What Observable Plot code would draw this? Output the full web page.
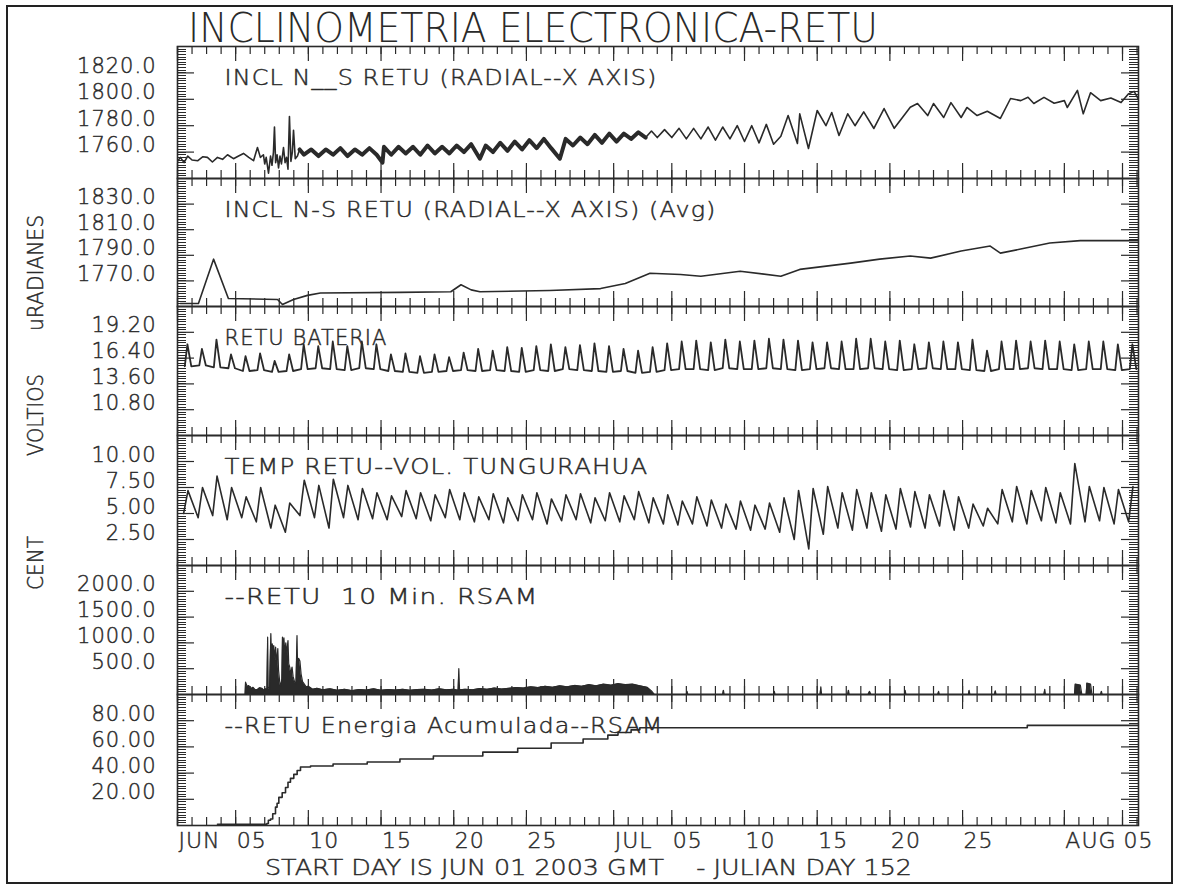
<!DOCTYPE html>
<html><head><meta charset="utf-8">
<script src="https://cdn.jsdelivr.net/npm/d3@7"></script>
<script src="https://cdn.jsdelivr.net/npm/@observablehq/plot@0.6"></script>
<style>
body{margin:0;background:#fff;}
#wrap{position:relative;width:1179px;height:886px;background:#fff;overflow:hidden;}
#wrap svg{position:absolute;left:0;top:0;}
#border{position:absolute;left:6px;top:5px;width:1163px;height:875px;border:2px solid #222;}
</style></head><body>
<div id="wrap"><div id="border"></div></div>
<script>
// ---------------- DATA (days since 2003-06-01 00:00 GMT) ----------------
const mainTitle = "INCLINOMETRIA ELECTRONICA-RETU";
const caption = "START DAY IS JUN 01 2003 GMT    - JULIAN DAY 152";
const yTitles = [["uRADIANES", 273, 116], ["VOLTIOS", 415, 82], ["CENT", 563, 54]];
const xLabels = [["2003-06-01","JUN"],["2003-06-05","05"],["2003-06-10","10"],["2003-06-15","15"],["2003-06-20","20"],["2003-06-25","25"],["2003-07-01","JUL"],["2003-07-05","05"],["2003-07-10","10"],["2003-07-15","15"],["2003-07-20","20"],["2003-07-25","25"],["2003-08-01","AUG"],["2003-08-05","05"]];

const p1Ticks = [1760, 1780, 1800, 1820];
const p2Ticks = [1770, 1790, 1810, 1830];
const p3Ticks = [10.8, 13.6, 16.4, 19.2];
const p4Ticks = [2.5, 5.0, 7.5, 10.0];
const p5Ticks = [500, 1000, 1500, 2000];
const p6Ticks = [20, 40, 60, 80];

// INCL N__S RETU (radial) [day, uRad]
const inclPts = [[0.0,1753],[0.2,1756],[0.45,1752],[0.7,1757],[1.0,1754],[1.4,1753.5],[1.75,1756.5],[2.06,1756],[2.4,1752.5],[2.75,1756],[3.1,1754.5],[3.44,1758],[3.85,1755],[4.2,1757],[4.54,1759],[4.9,1756],[5.23,1753.5],[5.5,1763.5],[5.7,1756],
[5.91,1758],[6.0,1751],[6.1,1756],[6.26,1744],[6.4,1757],[6.5,1750],[6.6,1760],[6.67,1779],[6.75,1752],[6.85,1758],[6.95,1748],[7.05,1757],[7.15,1751],[7.29,1763.5],[7.4,1752],[7.5,1756],[7.6,1747],[7.7,1787],[7.8,1753],[7.9,1760],[7.98,1776.5],[8.1,1755],[8.25,1757],[8.4,1762],
[8.7,1758],[9.2,1762],[9.7,1757],[10.2,1762],[10.7,1758],[11.2,1763],[11.7,1757],[12.2,1762],[12.7,1758],[13.2,1763],[13.7,1758],[14.1,1752],[14.2,1764],[14.7,1758],[15.2,1764],[15.7,1759],[16.2,1764],[16.7,1758],[17.2,1765],[17.7,1759],[18.2,1764],[18.7,1759],[19.2,1765],[19.7,1760],[20.2,1766],[20.8,1755],[21.2,1765],[21.7,1760],[22.2,1767],[22.7,1761],[23.2,1768],[23.7,1762],[24.2,1769],[24.7,1763],[25.2,1770],[25.7,1763],[26.3,1755],[26.7,1770],[27.2,1765],[27.7,1771],[28.2,1766],[28.7,1773],[29.2,1767],[29.7,1774],[30.2,1768],[30.7,1774],[31.2,1770],[31.7,1775],[32.2,1771],
[32.6,1776],[33.0,1771],[33.5,1777],[34.0,1771],[34.5,1778],[35.0,1770],[35.5,1778],[36.0,1770],[36.5,1779],[37.0,1769],[37.5,1779],[38.0,1770],[38.5,1780],[39.0,1768],[39.5,1780],[40.0,1767],[40.5,1781],[41.0,1766],[41.5,1772],[42.0,1787.7],[42.64,1766.5],[42.8,1789],[43.4,1762.7],[44.0,1791.5],[44.6,1780],[45.0,1790],[45.5,1772.6],[46.1,1789],[46.6,1780],[47.2,1790.5],[47.9,1777.9],[48.6,1793],[49.3,1778],[50.4,1794],[50.9,1796.8],[51.6,1787.7],[52.0,1796.8],[52.7,1786.2],[53.2,1797.5],[53.9,1786.2],[54.3,1793.8],[55.0,1787.7],[55.7,1791],[56.6,1785.5],[57.3,1800.6],[58.0,1799],[58.5,1801.5],[58.9,1796.8],[59.6,1801.5],[60.3,1797],[61.0,1799],[61.2,1793.8],[61.9,1806.7],[62.3,1789],[62.8,1805],[63.5,1799],[64.2,1801],[64.9,1797.5],[65.4,1804],[65.8,1806],[66.1,1800]];

// INCL N-S RETU (Avg) [day, uRad]
const avgPts = [[0.2,1752.4],[1.44,1752.4],[2.48,1787],[3.5,1756.3],[6.88,1755.5],[7.22,1751.6],[7.98,1755.5],[8.94,1758.7],[9.83,1760.5],[15.3,1761],[18.8,1761.5],[19.5,1767],[20.2,1763],[20.8,1761.5],[25.6,1762.5],[29.1,1764],[30.8,1768],[32.5,1776],[34.6,1775],[36,1773.6],[38.7,1777.6],[41.5,1773.6],[42.8,1779],[46.3,1783.9],[48.3,1787],[50.4,1789.4],[51.8,1787.8],[53.9,1793.3],[55.9,1797.2],[56.6,1791.7],[58,1794.9],[60,1799.6],[62.1,1801.5],[66.1,1801.5]];

// RETU BATERIA: daily charge peak and base (V), day 0..65
const batPeak = [17.9,17.4,18.4,16.8,16.6,16.9,16.1,16.8,17.9,17.7,18.2,17.7,18.2,17.9,16.8,16.9,16.6,16.8,16.5,17.0,17.4,17.2,17.6,17.5,17.7,17.9,17.6,17.8,18.0,17.7,17.4,17.2,17.6,18.0,18.2,18.3,18.1,18.4,18.2,18.3,18.5,18.4,18.3,18.1,18.1,18.2,18.5,18.5,18.2,18.3,17.9,18.1,18.2,18.1,18.4,17.2,18.2,18.3,18.2,18.3,18.2,17.9,18.2,18.2,17.9,17.9];
const batBase = [15.5,15.6,15.4,15.3,15.0,15.1,14.9,15.0,15.2,15.3,15.2,15.1,15.3,15.2,15.0,14.9,14.8,14.9,15.0,15.1,15.0,15.1,15.0,14.9,15.1,15.0,15.2,15.1,15.0,14.9,15.0,14.8,14.9,15.1,15.2,15.2,15.1,15.3,15.2,15.2,15.3,15.2,15.1,15.2,15.3,15.2,15.2,15.3,15.2,15.1,15.2,15.3,15.2,15.2,15.1,15.0,15.2,15.2,15.3,15.2,15.2,15.1,15.2,15.2,15.1,15.2];

// TEMP RETU: daily max and min (C), day 0..65
const tempPeak = [7.2,7.5,8.6,7.5,6.6,7.5,5.8,6.0,8.2,7.7,8.3,7.7,7.4,7.0,6.7,7.2,7.0,6.8,7.3,7.0,6.6,6.9,6.5,6.8,7.0,6.4,6.8,6.9,6.5,7.0,6.7,7.1,6.5,6.8,6.2,6.6,6.3,5.9,6.2,5.8,6.0,6.5,7.2,7.4,7.6,7.0,7.3,7.0,6.8,7.4,7.1,6.8,7.2,6.6,5.9,5.5,7.3,7.6,7.2,7.5,7.0,9.8,7.6,7.5,7.3,7.6];
const tempLow = [5.0,4.6,4.8,4.4,4.6,4.2,3.6,3.2,4.8,4.6,3.6,4.6,4.4,4.5,4.4,4.7,4.5,4.3,4.6,4.4,4.2,4.4,4.1,4.3,4.4,4.0,4.3,4.4,4.1,4.3,4.2,4.4,4.1,4.0,3.9,4.0,3.8,3.6,3.5,3.4,3.5,3.2,2.5,1.6,3.0,3.6,3.4,3.6,3.3,3.5,3.7,3.6,3.8,3.4,3.6,3.8,4.0,4.2,4.0,4.3,4.1,4.0,4.2,4.3,4.0,4.2];

// RETU 10 Min. RSAM [day, counts]
const rsamPts = [[4.65,0],[4.68,238],[4.8,150],[4.9,174],[5.05,110],[5.2,140],[5.35,90],[5.5,95],[5.65,130],[5.8,120],[5.95,85],[6.05,110],[6.15,100],[6.2,1110],[6.24,150],[6.33,90],[6.42,1180],[6.47,700],[6.52,980],[6.58,800],[6.62,950],[6.7,700],[6.75,917],[6.82,600],[6.9,890],[6.95,470],[7.03,250],[7.1,150],[7.18,300],[7.22,1110],[7.28,900],[7.32,1100],[7.38,800],[7.45,1000],[7.52,800],[7.6,1046],[7.65,600],[7.72,530],[7.8,400],[7.88,530],[7.95,350],[8.05,250],[8.15,200],[8.22,1143],[8.27,400],[8.33,700],[8.42,650],[8.5,400],[8.6,250],[8.7,210],[8.85,150],[9.0,160],[9.3,100],[9.6,120],[10,90],[10.5,110],[11,80],[11.5,100],[12,75],[12.5,95],[13,85],[13.5,110],[14,80],[14.5,95],[15,85],[15.5,100],[16,80],[16.5,95],[17,100],[17.5,85],[18,110],[18.5,90],[19,100],[19.3,80],[19.35,500],[19.4,90],[19.8,100],[20.3,90],[20.8,115],[21.3,100],[21.8,125],[22.3,105],[22.8,120],[23.3,135],[23.8,125],[24.3,150],[24.8,135],[25.3,160],[25.8,140],[26.3,170],[26.8,150],[27.3,175],[27.8,160],[28.3,190],[28.8,170],[29.3,200],[29.8,180],[30.3,210],[30.8,190],[31.3,200],[31.8,170],[32.3,140],[32.6,70],[32.8,0],[35.0,0],[35.05,60],[35.1,0],[37.5,0],[37.55,80],[37.6,0],[41,0],[41.05,60],[41.1,0],[44.2,0],[44.25,150],[44.3,0],[46.1,0],[46.15,80],[46.2,0],[47.5,0],[47.6,60],[47.7,0],[50,0],[50.05,80],[50.1,0],[52.3,0],[52.35,60],[52.4,0],[54.4,0],[54.45,80],[54.5,0],[56.2,0],[56.25,70],[56.3,0],[59.6,0],[59.65,100],[59.7,0],[61.7,0],[61.75,200],[62.1,180],[62.2,0],[62.5,0],[62.55,220],[62.8,200],[62.9,0],[63.5,0],[63.55,60],[63.6,0],[66.1,0]];

// RETU Energia Acumulada (RSAM) [day, value]
const energyPts = [[2.75,1.0],[6.15,1.5],[6.25,4],[6.4,5],[6.55,9],[6.74,14],[6.85,17],[6.97,21.5],[7.2,25],[7.43,29],[7.6,33],[7.77,36],[8.0,39],[8.23,42],[8.46,44.6],[9.15,45.4],[10.7,47],[13.05,48.5],[15.3,50.8],[17.6,53],[21.0,56],[23.4,59],[25.7,63],[27.9,66],[29.6,69],[30.3,71],[31.2,73],[31.8,74.6],[58.4,74.6],[58.45,76.4],[66.1,76.4]];

// ---------------- LAYOUT / STYLE ----------------
const W = 1179, H = 886, ML = 177, MR = 41;
const INK = "#2a2a2a";
const FONT = "'DejaVu Sans', sans-serif";
const T0 = Date.UTC(2003, 5, 1), DAY = 86400000, XEND = 66.1;
const toDate = d => new Date(T0 + d * DAY);
const xDomain = [toDate(0), toDate(XEND)];
const pxPerDay = (W - ML - MR) / XEND;
const minorDays = d3.utcDay.range(toDate(0), toDate(XEND));
const majorDays = minorDays.filter(d => [1,5,10,15,20,25].includes(d.getUTCDate()));

const batSeries = [];
batPeak.forEach((p, d) => { batSeries.push([d + 0.5, batBase[d]], [d + 0.68, p], [d + 0.95, batBase[d]]); });
const tempSeries = [];
tempPeak.forEach((p, d) => { tempSeries.push([d + 0.42, tempLow[d]], [d + 0.72, p]); });

const lineOpts = {x: d => toDate(d[0]), y: d => d[1], stroke: INK, strokeWidth: 1.6, clip: true};
const txt = {fill: INK, stroke: INK, strokeWidth: 0.45, fontWeight: 200};

const panels = [
  {top: 46, bottom: 178, domain: [1740, 1840], ticks: p1Ticks, fmt: d => d.toFixed(1),
   title: "INCL N__S RETU (RADIAL--X AXIS)", tw: 433,
   marks: [Plot.line(inclPts, lineOpts),
           Plot.line(inclPts.filter(d => d[0] >= 8.4 && d[0] <= 32.3), {...lineOpts, strokeWidth: 4})]},
  {top: 178, bottom: 306, domain: [1750, 1850], ticks: p2Ticks, fmt: d => d.toFixed(1),
   title: "INCL N-S RETU (RADIAL--X AXIS) (Avg)", tw: 492,
   marks: [Plot.line(avgPts, lineOpts)]},
  {top: 306, bottom: 435, domain: [8, 22], ticks: p3Ticks, fmt: d => d.toFixed(2),
   title: "RETU BATERIA", tw: 163,
   marks: [Plot.line(batSeries, {...lineOpts, strokeWidth: 1.8})]},
  {top: 435, bottom: 565, domain: [0, 12.5], ticks: p4Ticks, fmt: d => d.toFixed(2),
   title: "TEMP RETU--VOL. TUNGURAHUA", tw: 424,
   marks: [Plot.line(tempSeries, lineOpts)]},
  {top: 565, bottom: 694, domain: [0, 2500], ticks: p5Ticks, fmt: d => d.toFixed(1),
   title: "--RETU  10 Min. RSAM", tw: 314,
   marks: [Plot.areaY(rsamPts, {x: d => toDate(d[0]), y: d => d[1], fill: INK, clip: true}),
           Plot.line(rsamPts, {...lineOpts, strokeWidth: 1.2})]},
  {top: 694, bottom: 825, domain: [0, 100], ticks: p6Ticks, fmt: d => d.toFixed(2),
   title: "--RETU Energia Acumulada--RSAM", tw: 439,
   marks: [Plot.line(energyPts, {...lineOpts, curve: "step-after"})]}
];

function fitText(svg, str, width) {
  svg.querySelectorAll("text").forEach(t => {
    if (t.textContent === str) {
      t.setAttribute("textLength", width); t.setAttribute("lengthAdjust", "spacingAndGlyphs");
      t.setAttribute("xml:space", "preserve"); t.style.whiteSpace = "pre";
    }
  });
}

const wrap = document.getElementById("wrap");
panels.forEach((p, i) => {
  const h = p.bottom - p.top;
  const [lo, hi] = p.domain;
  const minorY = d3.range(51).map(k => lo + (hi - lo) * k / 50);
  const tk = {stroke: INK, strokeWidth: 1.2};
  const tkm = {stroke: INK, strokeWidth: 1, shapeRendering: "crispEdges"};
  // y-axis ticks on left and right edges, pointing inward
  const lMinor = {x1: toDate(0), x2: toDate(9 / pxPerDay)};
  const lMajor = {x1: toDate(0), x2: toDate(17 / pxPerDay)};
  const rMinor = {x1: toDate(XEND - 9 / pxPerDay), x2: toDate(XEND)};
  const rMajor = {x1: toDate(XEND - 17 / pxPerDay), x2: toDate(XEND)};
  const marks = [
    Plot.ruleY(minorY, {y: d => d, ...lMinor, ...tkm}),
    Plot.ruleY(p.ticks, {y: d => d, ...lMajor, ...tk}),
    Plot.ruleY(minorY, {y: d => d, ...rMinor, ...tkm}),
    Plot.ruleY(p.ticks, {y: d => d, ...rMajor, ...tk}),
    Plot.tickX(minorDays, {x: d => d, insetBottom: h - 8, ...tk}),
    Plot.tickX(majorDays, {x: d => d, insetBottom: h - 15, ...tk}),
    Plot.tickX(minorDays, {x: d => d, insetTop: h - 8, ...tk}),
    Plot.tickX(majorDays, {x: d => d, insetTop: h - 15, ...tk}),
    ...p.marks,
    Plot.frame({stroke: INK, strokeWidth: 1.6}),
    Plot.text(p.ticks, {y: d => d, text: p.fmt, frameAnchor: "left", dx: -21, textAnchor: "end", lineAnchor: "bottom", fontSize: 21, ...txt}),
    Plot.text([p.title], {text: d => d, frameAnchor: "top-left", dx: 47, dy: 38, textAnchor: "start", lineAnchor: "bottom", fontSize: 21, ...txt})
  ];
  if (i === panels.length - 1) {
    marks.push(Plot.text(xLabels, {x: d => new Date(d[0] + "T00:00:00Z"), text: d => d[1], frameAnchor: "bottom", textAnchor: "start", lineAnchor: "top", dy: 7, dx: 1, fontSize: 22, ...txt}));
  }
  const svg = Plot.plot({
    width: W, height: H,
    marginTop: p.top, marginBottom: H - p.bottom, marginLeft: ML, marginRight: MR,
    x: {type: "utc", domain: xDomain, axis: null},
    y: {domain: p.domain, axis: null},
    style: {background: "transparent", fontFamily: FONT, letterSpacing: "1px", overflow: "visible"},
    marks
  });
  fitText(svg, p.title, p.tw);
  wrap.appendChild(svg);
});

// overlay: main title, axis titles, caption
const ov = d3.create("svg").attr("width", W).attr("height", H)
  .style("font-family", FONT).style("fill", INK);
ov.append("text").attr("x", 188).attr("y", 42).attr("font-size", 40).attr("font-weight", 200)
  .attr("textLength", 690).attr("lengthAdjust", "spacingAndGlyphs").text(mainTitle);
yTitles.forEach(([s, cy, len]) => {
  ov.append("text").attr("transform", `translate(43,${cy}) rotate(-90)`).attr("text-anchor", "middle")
    .attr("font-size", 22).attr("font-weight", 200).attr("stroke", INK).attr("stroke-width", 0.45)
    .attr("textLength", len).attr("lengthAdjust", "spacingAndGlyphs").text(s);
});
ov.append("text").attr("x", 265).attr("y", 875).attr("font-size", 22).attr("font-weight", 200)
  .attr("stroke", INK).attr("stroke-width", 0.45)
  .attr("xml:space", "preserve").style("white-space", "pre")
  .attr("textLength", 647).attr("lengthAdjust", "spacingAndGlyphs").text(caption);
wrap.appendChild(ov.node());
</script></body></html>
